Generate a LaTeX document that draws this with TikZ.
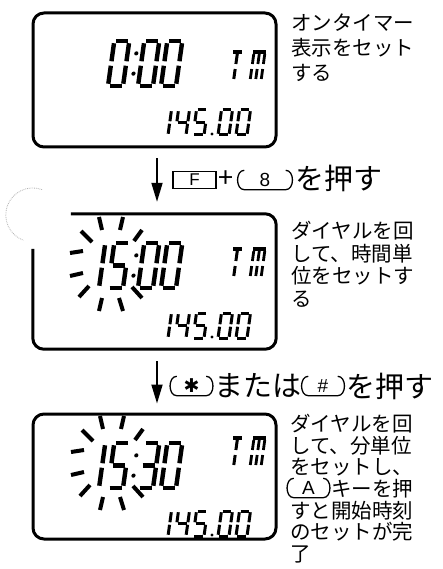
\documentclass[tikz,border=0pt]{standalone}
\usepackage{fontspec}
\newfontfamily\cjk{Noto Sans CJK JP}
\newfontfamily\keyfont{Liberation Sans}
\newfontfamily\symfont{DejaVu Sans}
\usetikzlibrary{arrows.meta}
% seven-segment coordinates (unit: x = width, y = half height)
\def\SA{0.1/2/0.9/2}
\def\SB{1/1.9/1/1.1}
\def\SC{1/0.9/1/0.1}
\def\SD{0.1/0/0.9/0}
\def\SE{0/0.9/0/0.1}
\def\SF{0/1.9/0/1.1}
\def\SG{0.1/1/0.9/1}
\edef\dZero{\SA,\SB,\SC,\SD,\SE,\SF}
\edef\dOne{\SB,\SC}
\edef\dThree{\SA,\SB,\SC,\SD,\SG}
\edef\dFour{\SB,\SC,\SF,\SG}
\edef\dFive{\SA,\SF,\SG,\SC,\SD}
\newcommand\lcdd[6]{%
  \begin{scope}[shift={(#1,#2)},x=#3pt,y=#4pt,xslant=0.14]
    \foreach \xa/\ya/\xb/\yb in #6 {\draw[line width=#5pt] (\xa,\ya) -- (\xb,\yb);}
  \end{scope}}
\newcommand\lcdcolon[4]{%
  \begin{scope}[shift={(#1,#2)},x=#3pt,y=#4pt,xslant=0.14]
    \fill (0.25,1.45) circle[radius=2.1pt];
    \fill (0.25,0.55) circle[radius=2.1pt];
  \end{scope}}
\newcommand\tmsign[2]{%
  \begin{scope}[shift={(#1,#2)},x=1pt,y=1pt,xslant=0.14]
    \draw[line width=3.4pt] (0,29) -- (9,29);
    \draw[line width=3pt] (4.5,27) -- (4.5,17);
    \draw[line width=3pt] (4.5,12) -- (4.5,2);
    \draw[line width=3.4pt] (20,29) -- (33,29);
    \foreach \mx in {21,26.5,32} {\draw[line width=2.8pt] (\mx,27) -- (\mx,17); \draw[line width=2.8pt] (\mx,12) -- (\mx,2);}
  \end{scope}}
\newcommand\keyshape[1]{%
  \draw[keyline] ([xshift=7pt]#1.north west) .. controls ([xshift=-2pt]#1.north west) and ([xshift=-2pt]#1.south west) .. ([xshift=7pt]#1.south west) -- ([xshift=-7pt]#1.south east) .. controls ([xshift=2pt]#1.south east) and ([xshift=2pt]#1.north east) .. ([xshift=-7pt]#1.north east);}
\begin{document}
\begin{tikzpicture}[x=1pt,y=-1pt,
  lcd/.style={draw, line width=3pt, rounded corners=11pt, minimum width=243pt, inner sep=0pt},
  lcdframe/.style={line width=3pt, rounded corners=11pt},
  boxtext/.style={anchor=north west, align=left, inner sep=0pt},
  lab/.style={font=\cjk\fontsize{29}{31}\selectfont, inner sep=0pt},
  rkey/.style={inner sep=0pt, minimum width=43pt, minimum height=19pt, font=\keyfont\fontsize{19}{19}\selectfont},
  fkey/.style={draw, line width=1.3pt, inner sep=0pt, minimum width=43pt, minimum height=17pt, font=\keyfont\fontsize{17}{17}\selectfont},
  keyline/.style={line width=1.3pt},
  arr/.style={line width=1.8pt, -{Triangle[length=19pt,width=11pt]}},
  ray/.style={line width=4pt}]
\fill[white] (0,0) rectangle (442,569);
\useasboundingbox (0,0) rectangle (442,569);
% faint scan mark
\draw[black!30, densely dotted, line width=0.8pt] (42,189.6) arc[start angle=70, end angle=250, radius=27pt];
% LCD frames
\node[lcd, minimum height=134pt] (box1) at (154.5,80) {};
\node[minimum width=243pt, minimum height=135pt, inner sep=0pt] (box2) at (154.5,281.5) {};
\draw[lcdframe] ([xshift=38pt]box2.north west) -- (box2.north east) -- (box2.south east) -- (box2.south west) -- ([yshift=-35pt]box2.north west);
\node[lcd, minimum height=125pt] (box3) at (154.5,476.5) {};
% arrows
\draw[arr, shorten <=10pt, shorten >=12pt] ([xshift=2.5pt]box1.south) -- ([xshift=2.5pt]box2.north);
\draw[arr, shorten <=12pt, shorten >=9pt] ([xshift=2.5pt]box2.south) -- ([xshift=2.5pt]box3.north);
% box 1 display
\lcdd{108}{86}{15}{22.5}{4.4}{\dZero}
\lcdcolon{128}{86}{15}{22.5}
\lcdd{138}{86}{15}{22.5}{4.4}{\dZero}
\lcdd{161}{86}{15}{22.5}{4.4}{\dZero}
\tmsign{229}{81}
\lcdd{157}{135}{11}{12.5}{3}{\dOne}
\lcdd{175}{135}{11}{12.5}{3}{\dFour}
\lcdd{193}{135}{11}{12.5}{3}{\dFive}
\fill (212,134) circle[radius=1.7pt];
\lcdd{218}{135}{11}{12.5}{3}{\dZero}
\lcdd{236}{135}{11}{12.5}{3}{\dZero}
% box 2 display
\foreach \ax/\ay/\bx/\by in {99/217/102/230, 123/217/120/230, 81/231/92/242, 142/230/134/241, 70/253/83/251, 70/276/83/273, 79/297/89/286, 132/287/142/298, 99/311/102/298, 119/298/123/311}
  {\draw[ray] (\ax,\ay) -- (\bx,\by);}
\lcdd{84}{288}{15}{22.5}{4.4}{\dOne}
\lcdd{108}{288}{15}{22.5}{4.4}{\dFive}
\lcdcolon{128}{288}{15}{22.5}
\lcdd{138}{288}{15}{22.5}{4.4}{\dZero}
\lcdd{161}{288}{15}{22.5}{4.4}{\dZero}
\tmsign{229}{278}
\lcdd{157}{338}{11}{12.5}{3}{\dOne}
\lcdd{175}{338}{11}{12.5}{3}{\dFour}
\lcdd{193}{338}{11}{12.5}{3}{\dFive}
\fill (212,337) circle[radius=1.7pt];
\lcdd{218}{338}{11}{12.5}{3}{\dZero}
\lcdd{236}{338}{11}{12.5}{3}{\dZero}
% box 3 display
\begin{scope}[shift={(1,199)}]
\foreach \ax/\ay/\bx/\by in {99/217/102/230, 123/217/120/230, 81/231/92/242, 142/230/134/241, 70/253/83/251, 70/276/83/273, 79/297/89/286, 132/287/142/298, 99/311/102/298, 119/298/123/311}
  {\draw[ray] (\ax,\ay) -- (\bx,\by);}
\end{scope}
\lcdd{84}{488}{15}{22.5}{4.4}{\dOne}
\lcdd{108}{488}{15}{22.5}{4.4}{\dFive}
\lcdcolon{128}{488}{15}{22.5}
\lcdd{138}{488}{15}{22.5}{4.4}{\dThree}
\lcdd{161}{488}{15}{22.5}{4.4}{\dZero}
\tmsign{229}{467}
\lcdd{157}{536}{11}{12.5}{3}{\dOne}
\lcdd{175}{536}{11}{12.5}{3}{\dFour}
\lcdd{193}{536}{11}{12.5}{3}{\dFive}
\fill (212,535) circle[radius=1.7pt];
\lcdd{218}{536}{11}{12.5}{3}{\dZero}
\lcdd{236}{536}{11}{12.5}{3}{\dZero}
% step labels
\node[fkey] (kF) at (194.5,180) {F};
\node[lab, font=\cjk\fontsize{27}{27}\selectfont] (plus) at (226,179) {+};
\node[rkey, minimum width=55pt] (k8) at (265,180) {8};
\keyshape{k8}
\node[lab, anchor=west] (t1) at (295,178) {を押す};
\node[rkey] (kS) at (191.5,386) {\symfont\fontsize{19}{19}\selectfont ✱};
\keyshape{kS}
\node[lab, anchor=west] (t2a) at (214,386) {または};
\node[rkey] (kH) at (323,386) {\#};
\keyshape{kH}
\node[lab, anchor=west] (t2b) at (346,386) {を押す};
% explanations
\node[boxtext, font=\cjk\fontsize{20.5}{25}\selectfont] (b1t) at (291,14) {オンタイマー\\表示をセット\\する};
\node[boxtext, font=\cjk\fontsize{20.5}{22.5}\selectfont] (b2t) at (291,221) {ダイヤルを回\\して、時間単\\位をセットす\\る};
\node[boxtext, font=\cjk\fontsize{20.5}{21.5}\selectfont] (b3ta) at (290,414) {ダイヤルを回\\して、分単位\\をセットし、};
\node[rkey] (kA) at (308.5,488) {A};
\keyshape{kA}
\node[inner sep=0pt, anchor=west, font=\cjk\fontsize{20.5}{21.5}\selectfont] (b3tb) at (331,489) {キーを押};
\node[boxtext, font=\cjk\fontsize{20.5}{21.5}\selectfont] (b3tc) at (290,501) {すと開始時刻\\のセットが完\\了};
\end{tikzpicture}
\end{document}
